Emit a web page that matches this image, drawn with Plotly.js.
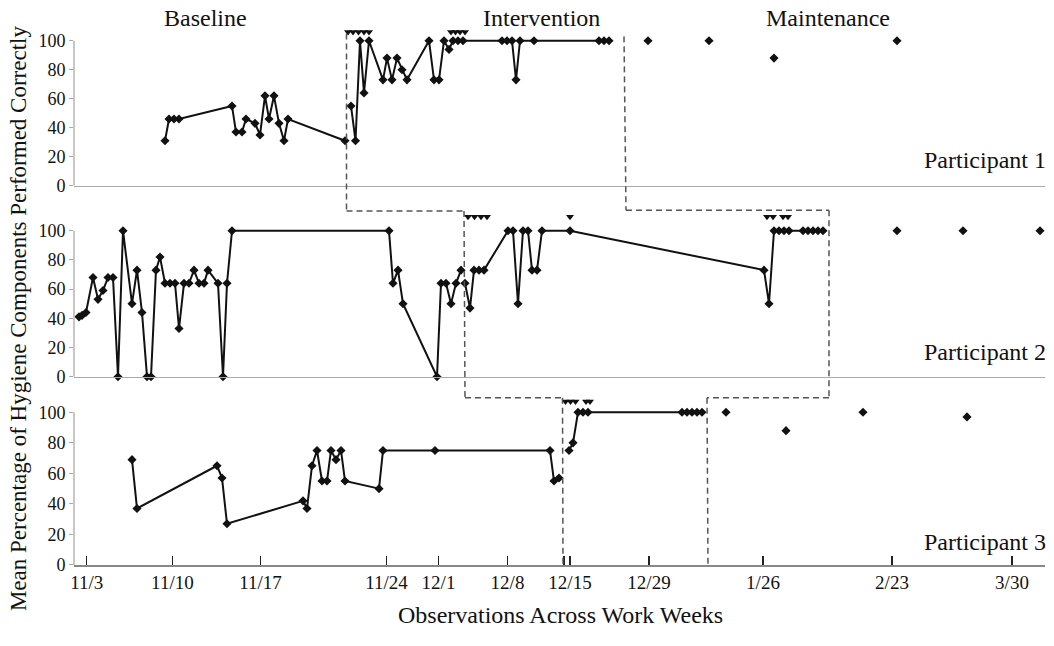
<!DOCTYPE html>
<html>
<head>
<meta charset="utf-8">
<script src="https://cdn.plot.ly/plotly-3.0.1.min.js"></script>
<style>html,body{margin:0;padding:0;background:#fff;}#chart{width:1054px;height:646px;}</style>
</head>
<body>
<div id="chart"></div>
<script>
// ---- x axis: observation position along the work-week axis ----
const dateTickLabels = ['11/3','11/10','11/17','11/24','12/1','12/8','12/15','12/29','1/26','2/23','3/30'];
const dateTickPos    = [12.7, 98.4, 186.5, 312.5, 364.5, 433.5, 496, 575, 689, 818, 938];
const extraTickPos   = [490];   // second mark of the doubled 12/15 tick

// ---- Participant 1 ----
const p1BaseX  = [91, 95, 100, 105, 158, 162, 168, 172, 181, 186, 191, 195, 200, 205, 210, 214, 271];
const p1BaseY  = [31, 46, 46, 46, 55, 37, 37, 46, 43, 35, 62, 46, 62, 43, 31, 46, 31];
const p1IntX   = [277, 281.5, 286, 290, 295, 309, 313, 318, 323, 328, 333, 355, 360, 365, 370, 375, 379, 384, 389, 428, 433, 438, 442, 446, 460, 525, 530, 535];
const p1IntY   = [55, 31, 100, 64, 100, 73, 88, 73, 88, 80, 73, 100, 73, 73, 100, 94, 100, 100, 100, 100, 100, 100, 73, 100, 100, 100, 100, 100];
const p1MaintX = [574, 635, 700, 823];
const p1MaintY = [100, 100, 88, 100];
const p1PromptX = [274, 279, 284.5, 290, 295, 377, 381.5, 386, 391];

// ---- Participant 2 ----
const p2BaseX  = [5, 8, 12, 19, 24, 29, 34, 39, 44, 49, 58, 63, 68, 73, 77, 82, 86, 91, 96, 101, 105, 110, 115, 120, 125, 130, 134, 144, 149, 153, 158, 315, 319, 324, 329, 363, 367, 372, 377, 382, 387];
const p2BaseY  = [41, 42, 44, 68, 53, 59, 68, 68, 0, 100, 50, 73, 44, 0, 0, 73, 82, 64, 64, 64, 33, 64, 64, 73, 64, 64, 73, 64, 0, 64, 100, 100, 64, 73, 50, 0, 64, 64, 50, 64, 73];
const p2IntX   = [391, 396, 400, 405, 410, 434, 439, 444, 449, 454, 458, 463, 468, 496, 690, 695, 700, 705, 710, 715, 729, 734, 739, 744, 749];
const p2IntY   = [64, 47, 73, 73, 73, 100, 100, 50, 100, 100, 73, 73, 100, 100, 73, 50, 100, 100, 100, 100, 100, 100, 100, 100, 100];
const p2MaintX = [823, 889, 966];
const p2MaintY = [100, 100, 100];
const p2PromptX = [394, 400.5, 407, 413, 496, 693, 699, 709, 714];

// ---- Participant 3 ----
const p3BaseX  = [58, 63, 143, 148, 153, 229, 233, 238, 243, 248, 253, 257, 262, 267, 271, 305, 309, 361, 476, 480, 485];
const p3BaseY  = [69, 37, 65, 57, 27, 42, 37, 65, 75, 55, 55, 75, 69, 75, 55, 50, 75, 75, 75, 55, 57];
const p3IntX   = [495, 499, 504, 509, 514, 608, 613, 618, 623, 628];
const p3IntY   = [75, 80, 100, 100, 100, 100, 100, 100, 100, 100];
const p3MaintX = [652, 712, 789, 893];
const p3MaintY = [100, 88, 100, 97];
const p3PromptX = [491.5, 496.5, 501.5, 512, 516];

// ---- phase changes (observation positions) ----
const phaseLabels = ['Baseline', 'Intervention', 'Maintenance'];
const participantLabels = ['Participant 1', 'Participant 2', 'Participant 3'];
const yTickVals = [0, 20, 40, 60, 80, 100];

// ---------------- layout helpers ----------------
const FONT = '"Liberation Serif", "Times New Roman", serif';
const XR = [0, 971];
const YR = [0, 112];
const domains = [[0.6960, 0.9939], [0.3455, 0.6455], [0, 0.3138]];
function yPaper(panel, v) { const d = domains[panel]; return d[0] + (v - YR[0]) / (YR[1] - YR[0]) * (d[1] - d[0]); }

const panels = [
  {bx: p1BaseX, by: p1BaseY, ix: p1IntX, iy: p1IntY, mx: p1MaintX, my: p1MaintY, px: p1PromptX, lvl: 106},
  {bx: p2BaseX, by: p2BaseY, ix: p2IntX, iy: p2IntY, mx: p2MaintX, my: p2MaintY, px: p2PromptX, lvl: 109.5},
  {bx: p3BaseX, by: p3BaseY, ix: p3IntX, iy: p3IntY, mx: p3MaintX, my: p3MaintY, px: p3PromptX, lvl: 107}
];

const traces = [];
panels.forEach((p, i) => {
  const xa = i === 0 ? 'x' : 'x' + (i + 1);
  const ya = i === 0 ? 'y' : 'y' + (i + 1);
  const lineStyle = {color: '#111', width: 2};
  const mk = {symbol: 'diamond', size: 7, color: '#111'};
  traces.push({x: p.bx, y: p.by, xaxis: xa, yaxis: ya, type: 'scatter', mode: 'lines+markers', line: lineStyle, marker: mk, cliponaxis: false, hoverinfo: 'x+y'});
  traces.push({x: p.ix, y: p.iy, xaxis: xa, yaxis: ya, type: 'scatter', mode: 'lines+markers', line: lineStyle, marker: mk, cliponaxis: false, hoverinfo: 'x+y'});
  traces.push({x: p.mx, y: p.my, xaxis: xa, yaxis: ya, type: 'scatter', mode: 'markers', marker: mk, cliponaxis: false, hoverinfo: 'x+y'});
  traces.push({x: p.px, y: p.px.map(() => p.lvl), xaxis: xa, yaxis: ya, type: 'scatter', mode: 'markers',
    marker: {symbol: 'triangle-down', size: 7, color: '#111'}, cliponaxis: false, hoverinfo: 'x'});
});

const dash = {color: '#555', width: 1.5, dash: '6px,4px'};
function seg(x0, y0, x1, y1) { return {type: 'line', xref: 'x3', yref: 'paper', x0: x0, y0: y0, x1: x1, y1: y1, line: dash}; }
const gap12A = yPaper(0, -17.5), gap12B = yPaper(0, -17), gap23 = yPaper(1, -14.5);
const shapes = [
  // baseline -> intervention
  seg(272.5, yPaper(0, 105), 272.5, gap12A),
  seg(272.5, gap12A, 390, gap12A),
  seg(390, gap12A, 391, gap23),
  seg(391, gap23, 488.5, gap23),
  seg(488.5, gap23, 489, -0.002),
  // intervention -> maintenance
  seg(550, yPaper(0, 103), 552, gap12B),
  seg(552, gap12B, 755, gap12B),
  seg(755, gap12B, 755, gap23),
  seg(755, gap23, 633, gap23),
  seg(633, gap23, 634, -0.002)
];
// y axis lines spanning 0..100 only
['y', 'y2', 'y3'].forEach(ya => shapes.push({type: 'line', xref: 'paper', yref: ya, x0: 0, x1: 0, y0: 0, y1: 100, line: {color: '#aaa', width: 1.3}}));

function yAxis(i) {
  return {domain: domains[i], range: YR, anchor: i === 0 ? 'x' : 'x' + (i + 1), showgrid: false, zeroline: false, showline: false,
    tickvals: yTickVals, ticks: 'outside', ticklen: 4, tickcolor: '#aaa', tickwidth: 1,
    tickfont: {family: FONT, size: 18, color: '#111'}, fixedrange: true};
}
function xAxis(i) {
  const base = {domain: [0, 1], range: XR, anchor: i === 0 ? 'y' : 'y' + (i + 1), showgrid: false, zeroline: false,
    showline: true, linecolor: '#aaa', linewidth: 1.5, fixedrange: true};
  if (i < 2) { base.showticklabels = false; base.ticks = ''; }
  else {
    base.linecolor = '#888';
    base.tickvals = dateTickPos.concat(extraTickPos);
    base.ticktext = dateTickLabels.concat(extraTickPos.map(() => ''));
    base.ticks = 'inside'; base.ticklen = 9; base.tickcolor = '#222'; base.tickwidth = 1.5;
    base.tickfont = {family: FONT, size: 19, color: '#111'};
  }
  return base;
}

const annFont = {family: FONT, size: 24, color: '#111'};
const annotations = [
  {text: phaseLabels[0], xref: 'x3', yref: 'paper', x: 131, y: 1.0037, showarrow: false, font: annFont, yanchor: 'middle'},
  {text: phaseLabels[1], xref: 'x3', yref: 'paper', x: 467, y: 1.0037, showarrow: false, font: annFont, yanchor: 'middle'},
  {text: phaseLabels[2], xref: 'x3', yref: 'paper', x: 754, y: 1.0037, showarrow: false, font: annFont, yanchor: 'middle'},
  {text: participantLabels[0], xref: 'paper', yref: 'paper', x: 1.003, y: 0.743, xanchor: 'right', yanchor: 'middle', showarrow: false, font: annFont},
  {text: participantLabels[1], xref: 'paper', yref: 'paper', x: 1.003, y: 0.3908, xanchor: 'right', yanchor: 'middle', showarrow: false, font: annFont},
  {text: participantLabels[2], xref: 'paper', yref: 'paper', x: 1.003, y: 0.0422, xanchor: 'right', yanchor: 'middle', showarrow: false, font: annFont},
  {text: 'Mean Percentage of Hygiene Components Performed Correctly', xref: 'paper', yref: 'paper', x: -0.0577, y: 0.453,
    textangle: -90, showarrow: false, font: {family: FONT, size: 23, color: '#111'}, xanchor: 'center', yanchor: 'middle'},
  {text: 'Observations Across Work Weeks', xref: 'paper', yref: 'paper', x: 0.5015, y: -0.0917, showarrow: false,
    font: {family: FONT, size: 24, color: '#111'}, xanchor: 'center', yanchor: 'middle'}
];

const layout = {
  width: 1054, height: 646,
  margin: {l: 74, r: 9, t: 20, b: 81},
  paper_bgcolor: '#fff', plot_bgcolor: '#fff',
  showlegend: false,
  font: {family: FONT, color: '#111'},
  xaxis: xAxis(0), xaxis2: xAxis(1), xaxis3: xAxis(2),
  yaxis: yAxis(0), yaxis2: yAxis(1), yaxis3: yAxis(2),
  shapes: shapes,
  annotations: annotations
};

Plotly.newPlot('chart', traces, layout, {displayModeBar: false, staticPlot: true});
</script>
</body>
</html>
